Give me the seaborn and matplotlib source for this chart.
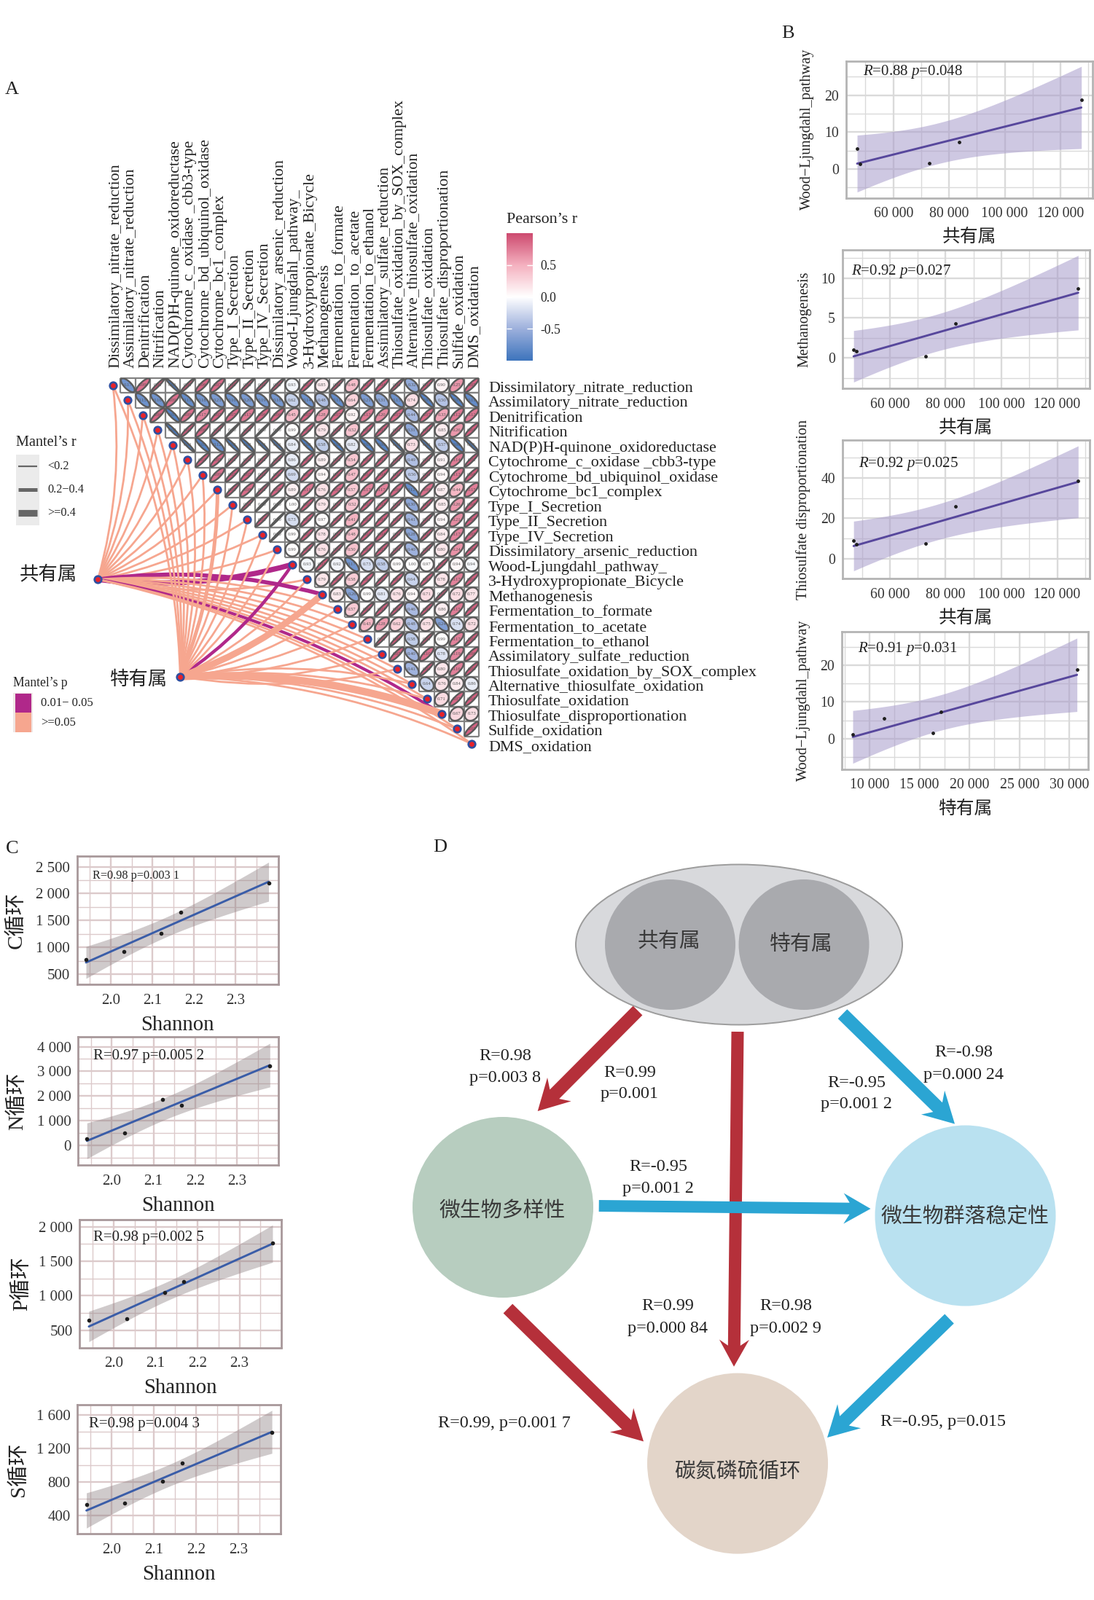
import numpy as np
import pandas as pd
import seaborn as sns
import matplotlib
matplotlib.use('Agg')
import matplotlib.pyplot as plt
from matplotlib.collections import PolyCollection
from matplotlib.colors import LinearSegmentedColormap, ListedColormap, Normalize
from matplotlib.cm import ScalarMappable
from matplotlib.patches import Circle, Ellipse, PathPatch, Polygon, Rectangle
from matplotlib.path import Path
from matplotlib.transforms import ScaledTranslation

W, H = 1501, 2196

sns.set_style('white')
plt.rcParams['font.family'] = ['Liberation Serif', 'Noto Sans CJK SC']
plt.rcParams['mathtext.fontset'] = 'custom'
plt.rcParams['mathtext.rm'] = 'Liberation Serif'
plt.rcParams['mathtext.it'] = 'Liberation Serif:italic'
plt.rcParams['text.color'] = '#222222'

# ---- panel A ----
pathways = ['Dissimilatory_nitrate_reduction', 'Assimilatory_nitrate_reduction', 'Denitrification',
            'Nitrification', 'NAD(P)H-quinone_oxidoreductase', 'Cytochrome_c_oxidase _cbb3-type',
            'Cytochrome_bd_ubiquinol_oxidase', 'Cytochrome_bc1_complex', 'Type_I_Secretion',
            'Type_II_Secretion', 'Type_IV_Secretion', 'Dissimilatory_arsenic_reduction',
            'Wood-Ljungdahl_pathway_', '3-Hydroxypropionate_Bicycle', 'Methanogenesis',
            'Fermentation_to_formate', 'Fermentation_to_acetate', 'Fermentation_to_ethanol',
            'Assimilatory_sulfate_reduction', 'Thiosulfate_oxidation_by_SOX_complex',
            'Alternative_thiosulfate_oxidation', 'Thiosulfate_oxidation',
            'Thiosulfate_disproportionation', 'Sulfide_oxidation', 'DMS_oxidation']

# printed value of each cell, the sign says which way the correlation goes
signed_p = [
    [-.17, .09, .01, -.01, .01, .06, .07, .01, .01, .01, .01, -.93, .03, .85, .01, .48, .03, .04, .01, -.32, .02, .90, .25, .05],
    [-.15, -.16, .09, -.11, -.18, -.21, -.16, -.20, -.19, -.18, -.62, -.14, -.48, -.11, .64, -.21, -.31, -.15, .74, -.05, -.50, -.05, -.11],
    [.06, -.05, .09, .17, .05, .07, .13, .06, .06, .45, .05, .28, .07, .92, .13, .20, .07, -.44, .07, .33, .12, .12],
    [-.02, .02, .06, .01, .00, .01, .00, .00, .99, .03, .79, .01, .52, .03, .03, .01, -.31, .02, .85, .26, .04],
    [-.01, -.05, -.12, -.02, -.02, -.01, -.01, -.84, -.03, -.58, -.03, -.82, -.05, -.06, -.01, .73, -.01, -.57, -.06, -.01],
    [.03, .05, .01, .01, .01, .01, -.86, .03, .89, .01, .54, .03, .03, .01, -.49, .01, .91, .14, .02],
    [.09, .03, .05, .01, .02, -.69, .04, .94, .02, .47, .04, .04, .02, -.56, .01, .94, .13, .04],
    [.02, .08, .01, .05, .89, .11, .76, .07, .57, .17, .17, .06, -.12, .09, .87, .44, .15],
    [.01, .00, .00, 1.00, .03, .79, .01, .52, .03, .03, .01, -.30, .02, .85, .26, .04],
    [.02, .00, -.73, .03, .97, .02, .41, .03, .04, .02, -.41, .01, .94, .21, .04],
    [.00, .99, .03, .78, .01, .48, .03, .04, .01, -.28, .02, .84, .17, .05],
    [.99, .02, .76, .01, .50, .03, .03, .01, -.40, .01, .80, .24, .03],
    [-.93, .03, -.92, -.17, -.73, -.58, .99, 1.00, .97, .02, .94, -.94],
    [.79, .03, .58, .04, .02, .03, -.64, .03, .78, .17, .04],
    [.83, -.26, .99, -.81, .76, .94, .71, .01, .72, .77],
    [.57, .02, .03, .02, -.46, .02, .86, .15, .04],
    [.43, .28, .62, -.48, .75, -.24, -.74, .72],
    [.01, .02, -.58, .01, .99, .17, .03],
    [.05, -.40, .10, -.78, .19, .06],
    [-.41, .02, .80, .16, .03],
    [-.64, .76, .84, -.86],
    [.71, .07, .04],
    [.67, .73],
    [.05],
]

# p to |r| for five samples
p_lookup = [0, .01, .05, .1, .17, .25, .3, .4, .5, .6, .7, .8, .9, 1]
r_lookup = [1, .96, .88, .805, .72, .63, .58, .49, .39, .31, .23, .155, .08, 0]

common_purple = {12: 5.2, 14: 4.0, 22: 3.0}
special_purple = {12: 3.2}
special_thick = {7: 3.6, 14: 6.4, 22: 7.4}

# ---- panel B ----
common_abund = [47000, 48000, 72800, 83600, 127500]
special_abund = [8325, 11430, 16360, 17180, 30750]
wood_common = [5.6, 1.3, 1.6, 7.2, 18.7]
methano = [1.07, 0.88, 0.26, 4.33, 8.73]
thio_disp = [8.9, 7.2, 7.5, 26.0, 38.6]
wood_special = [1.2, 5.6, 1.6, 7.2, 18.7]

# ---- panel C ----
shannon = [1.9405, 2.0315, 2.121, 2.1675, 2.379]
c_cycle = [780, 918, 1256, 1659, 2194]
n_cycle = [260, 490, 1850, 1630, 3220]
p_cycle = [647, 669, 1051, 1206, 1768]
s_cycle = [526, 545, 806, 1031, 1395]


def px_axes(left, top, right, bottom, **kw):
    return fig.add_axes([left / W, 1 - bottom / H, (right - left) / W, (bottom - top) / H], **kw)


fig = plt.figure(figsize=(W / 100, H / 100), dpi=100)
bg = fig.add_axes([0, 0, 1, 1], zorder=0)
bg.set_xlim(0, W)
bg.set_ylim(H, 0)
bg.axis('off')

# ---- correlogram ----
n = len(pathways)
left, top, cell_w, cell_h = 144.6, 518.5, 20.51, 20.5
node_x = left + (np.arange(n) + .5) * cell_w
node_y = top + (np.arange(n) + .5) * cell_h

ax = px_axes(left, top, left + n * cell_w, top + n * cell_h, zorder=2)
frame = pd.DataFrame(np.zeros((n, n)), index=pathways, columns=pathways)
hide = np.tril(np.ones((n, n), dtype=bool))
sns.heatmap(frame, mask=hide, cmap=ListedColormap(['white']), cbar=False, linewidths=0,
            ax=ax, xticklabels=True, yticklabels=True)
ax.patch.set_alpha(0)
ax.xaxis.tick_top()
ax.yaxis.tick_right()
ax.tick_params(axis='x', length=0, pad=9.5, rotation=90, labelsize=15.8, labelcolor='#222222')
ax.tick_params(axis='y', length=0, pad=9, rotation=0, labelsize=15.8, labelcolor='#222222')
shift = ScaledTranslation(3.5 / 100, 0, fig.dpi_scale_trans)
for lab in ax.get_xticklabels():
    lab.set_transform(lab.get_transform() + shift)
shift_y = ScaledTranslation(0, -2 / 100, fig.dpi_scale_trans)
for lab in ax.get_yticklabels():
    lab.set_transform(lab.get_transform() + shift_y)

# staircase grid, only the upper triangle has cells
for i in range(n - 1):
    ax.hlines([i, i + 1], i + 1, n, color='#828282', lw=1.6, zorder=2.5, clip_on=False)
    ax.vlines(i + 1, 0, i + 1, color='#828282', lw=1.6, zorder=2.5, clip_on=False)
ax.vlines(n, 0, n - 1, color='#828282', lw=1.6, zorder=2.5, clip_on=False)

rb = LinearSegmentedColormap.from_list('rb', ['#3D74BC', '#9DB0DC', '#FFFFFF', '#F4B0BF', '#CD4A6F'])
norm = Normalize(-1, 1)
t = np.linspace(0, 2 * np.pi, 60)
polys, fills = [], []
for i, row in enumerate(signed_p):
    for k, val in enumerate(row):
        j = i + 1 + k
        r = np.sign(val) * np.interp(abs(val), p_lookup, r_lookup)
        if val == 0:
            r = .99
        d = np.arccos(r)
        polys.append(np.c_[j + .5 + .46 * np.cos(t + d / 2), i + .5 - .46 * np.cos(t - d / 2)])
        fills.append(rb(norm(r)))
        ax.text(j + .5, i + .5, '%.2f' % abs(val), ha='center', va='center', fontsize=4.8,
                color='#555555', zorder=4)
ax.add_collection(PolyCollection(polys, facecolors=fills, edgecolors='#5A5A5A', linewidths=1.7, zorder=3))

ax.scatter(np.arange(n) + .5, np.arange(n) + .5, s=78, color='#2F4FA0', zorder=5, clip_on=False, linewidths=0)
ax.scatter(np.arange(n) + .5, np.arange(n) + .5, s=24, color='#E8222A', zorder=6, clip_on=False, linewidths=0)

# mantel links, drawn underneath the grid
SALMON, PURPLE = '#F6A68F', '#B0288A'
hub_common = (134.3, 795.3)
hub_special = (247.3, 928.7)


def link(hub, target, color, lw):
    dx, dy = target[0] - hub[0], target[1] - hub[1]
    rad = .1 if dy < 0 else -.1
    ctrl = ((hub[0] + target[0]) / 2 - rad * dy, (hub[1] + target[1]) / 2 + rad * dx)
    bg.add_patch(PathPatch(Path([hub, ctrl, target], [Path.MOVETO, Path.CURVE3, Path.CURVE3]),
                           fc='none', ec=color, lw=lw, capstyle='butt'))


for i in range(n):
    link(hub_common, (node_x[i], node_y[i]), PURPLE if i in common_purple else SALMON, common_purple.get(i, 2.0))
for i, lw in special_purple.items():
    link(hub_special, (node_x[i], node_y[i]), PURPLE, lw)
for i in range(n):
    if i not in special_purple:
        link(hub_special, (node_x[i], node_y[i]), SALMON, special_thick.get(i, 2.0))

bg.scatter(*zip(hub_common, hub_special), s=78, color='#2F4FA0', zorder=5, linewidths=0)
bg.scatter(*zip(hub_common, hub_special), s=24, color='#E8222A', zorder=6, linewidths=0)
bg.text(66, 788, '共有属', fontsize=19, ha='center', va='center')
bg.text(191, 933, '特有属', fontsize=19, ha='center', va='center')

# colour bar
cax = px_axes(695, 320, 730.5, 495, zorder=2)
cb = fig.colorbar(ScalarMappable(norm=norm, cmap=rb), cax=cax, ticks=[-.5, 0, .5])
cb.outline.set_visible(False)
cb.ax.set_yticklabels(['-0.5', '0.0', '0.5'], fontsize=12.7, color='#222222')
cb.ax.tick_params(length=0, pad=8)
for v in (-.5, 0, .5):
    cb.ax.hlines(v, 0, .2, color='white', lw=1, transform=cb.ax.get_yaxis_transform())
    cb.ax.hlines(v, .8, 1, color='white', lw=1, transform=cb.ax.get_yaxis_transform())
bg.text(695, 302, 'Pearson’s r', fontsize=15.8, va='center')

# mantel legends
bg.text(22, 607, 'Mantel’s r', fontsize=14.6, va='center')
bg.add_patch(Rectangle((22, 624), 32, 96.7, fc='#EBEBEB', ec='none'))
for y, lw, lab in zip([640, 672, 704], [1.6, 3.6, 6.6], ['<0.2', '0.2−0.4', '>=0.4']):
    bg.plot([25, 51], [y, y], color='#666666', lw=lw, solid_capstyle='butt')
    bg.text(65, y, lab, fontsize=11.7, va='center')
bg.text(18, 938, 'Mantel’s p', fontsize=12.7, va='center')
bg.add_patch(Rectangle((18, 951), 27, 54, fc='#EFE6E4', ec='none'))
bg.add_patch(Rectangle((20.7, 951.7), 22, 26.5, fc=PURPLE, ec='none'))
bg.add_patch(Rectangle((20.7, 978.2), 22, 26.8, fc=SALMON, ec='none'))
bg.text(56, 965, '0.01− 0.05', fontsize=12, va='center')
bg.text(56, 992, '>=0.05', fontsize=12, va='center')

for lab, x, y in [('A', 16, 123), ('B', 1081, 46), ('C', 17, 1165), ('D', 604, 1163)]:
    bg.text(x, y, lab, fontsize=19, ha='center', va='center')


# ---- scatter panels ----
def fit_panel(box, xs, ys, xlim, ylim, xticks, yticks, xminor, yminor, xtxt, ylab, ylab_x, note, note_xy,
              note_size, colors, tick_size, xlab_size, ylab_size, xlab_gap, xfmt, yfmt):
    a = px_axes(*box, zorder=1)
    xs, ys = np.array(xs, float), np.array(ys, float)
    # 95 % band of the linear fit, five points
    b1, b0 = np.polyfit(xs, ys, 1)
    grid = np.linspace(xs.min(), xs.max(), 80)
    res = ys - (b0 + b1 * xs)
    se = np.sqrt((res ** 2).sum() / 3) * np.sqrt(1 / 5 + (grid - xs.mean()) ** 2 / ((xs - xs.mean()) ** 2).sum())
    a.fill_between(grid, b0 + b1 * grid - 3.182 * se, b0 + b1 * grid + 3.182 * se, color=colors['band'],
                   alpha=colors['alpha'], lw=0, zorder=1.5)
    sns.regplot(x=xs, y=ys, ax=a, ci=None, truncate=True,
                scatter_kws={'s': colors['dot'], 'color': '#1E1E1E', 'zorder': 3, 'alpha': 1},
                line_kws={'color': colors['line'], 'lw': 2.1, 'zorder': 2.5})
    a.set_xlim(*xlim)
    a.set_ylim(*ylim)
    a.set_xticks(xticks)
    a.set_yticks(yticks)
    a.set_xticks(xminor, minor=True)
    a.set_yticks(yminor, minor=True)
    a.set_xticklabels([xfmt(v) for v in xticks])
    a.set_yticklabels([yfmt(v) for v in yticks])
    a.set_axisbelow(True)
    a.grid(which='major', color=colors['grid'], lw=1.7)
    a.grid(which='minor', color=colors['grid'], lw=1.0)
    a.tick_params(which='both', length=0)
    a.tick_params(axis='both', labelsize=tick_size, labelcolor='#333333')
    a.tick_params(axis='x', pad=9)
    a.tick_params(axis='y', pad=7)
    for s in a.spines.values():
        s.set_visible(True)
        s.set_color(colors['frame'])
        s.set_linewidth(2)
    a.set_xlabel(xtxt, fontsize=xlab_size, color='#222222', va='center')
    a.xaxis.set_label_coords(.5, -xlab_gap / (box[3] - box[1]))
    a.set_ylabel(ylab, fontsize=ylab_size, color='#222222', va='center')
    a.yaxis.set_label_coords((ylab_x - box[0]) / (box[2] - box[0]), .5)
    a.text(note_xy[0], note_xy[1] + 3, note, fontsize=note_size, va='center', color='#222222',
           transform=bg.transData, zorder=6)
    return a


def spaced(v):
    return ('{:,}'.format(int(v))).replace(',', ' ')


violet = dict(band='#A79BCB', alpha=.55, line='#57479C', grid='#DADADA', frame='#B4B4B4', dot=6)
rosy = dict(band='#8E8284', alpha=.42, line='#3A5DA8', grid='#DCCACB', frame='#A8989A', dot=9)

big_x = [60000, 80000, 100000, 120000]
big_minor = [50000, 70000, 90000, 110000, 130000]
b_kw = dict(colors=violet, tick_size=14.2, xlab_size=17.8, ylab_size=14.6, xlab_gap=54, xfmt=spaced, yfmt=spaced, note_size=15)

fit_panel((1160.7, 83.6, 1499.3, 271.8), common_abund, wood_common, (42990, 131600), (-7.9, 29.3), big_x, [0, 10, 20],
          big_minor, [-5, 5, 15, 25], '共有属', 'Wood−Ljungdahl_pathway', 1107,
          '$\\it{R}$=0.88 $\\it{p}$=0.048', (1184, 95.7), **b_kw)
fit_panel((1155.7, 343.2, 1495, 533.2), common_abund, methano, (42960, 131600), (-3.81, 13.5), big_x, [0, 5, 10],
          big_minor, [-2.5, 2.5, 7.5, 12.5], '共有属', 'Methanogenesis', 1104,
          '$\\it{R}$=0.92 $\\it{p}$=0.027', (1168, 369), **b_kw)
fit_panel((1155.7, 603.9, 1495, 794.3), common_abund, thio_disp, (42960, 131600), (-9.2, 58.9), big_x, [0, 20, 40],
          big_minor, [-10, 10, 30, 50], '共有属', 'Thiosulfate disproportionation', 1102,
          '$\\it{R}$=0.92 $\\it{p}$=0.025', (1178, 633.6), **b_kw)
fit_panel((1154.7, 867.1, 1493, 1056), special_abund, wood_special, (7209, 31870), (-8.34, 29.05),
          [10000, 15000, 20000, 25000, 30000], [0, 10, 20],
          [7500, 12500, 17500, 22500, 27500], [-5, 5, 15, 25], '特有属', 'Wood−Ljungdahl_pathway', 1102,
          '$\\it{R}$=0.91 $\\it{p}$=0.031', (1177, 887.9), **b_kw)

shan_x = [2.0, 2.1, 2.2, 2.3]
shan_minor = [1.95, 2.05, 2.15, 2.25, 2.35]
c_kw = dict(colors=rosy, tick_size=15, xlab_size=20.7, ylab_size=21, xlab_gap=56,
            xfmt=lambda v: '%.1f' % v, yfmt=spaced)

fit_panel((105.7, 1175, 381.7, 1351.4), shannon, c_cycle, (1.919, 2.402), (309, 2697), shan_x,
          [500, 1000, 1500, 2000, 2500], shan_minor, [750, 1250, 1750, 2250], 'Shannon', 'C循环', 22,
          'R=0.98 p=0.003 1', (126.7, 1198.6), note_size=11.7, **c_kw)
fit_panel((107.3, 1423.4, 382.3, 1599.2), shannon, n_cycle, (1.9196, 2.4), (-810, 4390), shan_x,
          [0, 1000, 2000, 3000, 4000], shan_minor, [-500, 500, 1500, 2500, 3500], 'Shannon', 'N循环', 24,
          'R=0.97 p=0.005 2', (128, 1446.8), note_size=15, **c_kw)
fit_panel((109.3, 1673.7, 386, 1849.5), shannon, p_cycle, (1.9186, 2.4), (250, 2107), shan_x,
          [500, 1000, 1500, 2000], shan_minor, [750, 1250, 1750], 'Shannon', 'P循环', 30,
          'R=0.98 p=0.002 5', (128.3, 1695), note_size=15, **c_kw)
fit_panel((106.3, 1927.9, 385.3, 2105), shannon, s_cycle, (1.9194, 2.4), (180, 1726), shan_x,
          [400, 800, 1200, 1600], shan_minor, [600, 1000, 1400], 'Shannon', 'S循环', 25,
          'R=0.98 p=0.004 3', (121.7, 1951.5), note_size=15, **c_kw)

# ---- panel D ----
RED, BLUE = '#B5303A', '#2BA5D3'


def stealth(tail, tip, width, head_w, head_len, color, z=3):
    tail, tip = np.array(tail, float), np.array(tip, float)
    u = (tip - tail) / np.hypot(*(tip - tail))
    nrm = np.array([-u[1], u[0]])
    neck = tip - u * head_len * .78
    barb = tip - u * head_len
    pts = [tail + nrm * width / 2, neck + nrm * width / 2, barb + nrm * head_w / 2, tip,
           barb - nrm * head_w / 2, neck - nrm * width / 2, tail - nrm * width / 2]
    bg.add_patch(Polygon(pts, closed=True, fc=color, ec='none', zorder=z))


bg.add_patch(Ellipse((1014, 1296.5), 448, 220, fc='#D8D9DC', ec='#9C9C9C', lw=1.4, zorder=2))
bg.add_patch(Circle((919.5, 1296.5), 89.5, fc='#A9AAAE', ec='none', zorder=2.1))
bg.add_patch(Circle((1103, 1296.5), 89.5, fc='#A9AAAE', ec='none', zorder=2.1))
bg.add_patch(Circle((690, 1657), 124, fc='#B7CDBF', ec='none', zorder=2))
bg.add_patch(Circle((1324.5, 1668.5), 124, fc='#B9E1F0', ec='none', zorder=2))
bg.add_patch(Circle((1012, 2008.6), 124, fc='#E3D5C9', ec='none', zorder=2))

stealth((875, 1387), (737.7, 1525), 18, 46, 42, RED)
stealth((1012, 1416), (1007, 1875.7), 17, 41, 37, RED)
stealth((696.9, 1796), (883, 1978.4), 18, 46, 42, RED)
stealth((1156, 1391.7), (1310, 1542.6), 18, 46, 42, BLUE)
stealth((1302.5, 1810), (1135, 1973), 18, 46, 42, BLUE)
stealth((821.7, 1655), (1194.5, 1659), 16, 42, 37, BLUE, z=3.2)

for txt, x, y in [('共有属', 917.7, 1293), ('特有属', 1099, 1297), ('微生物多样性', 689, 1662),
                  ('微生物群落稳定性', 1324, 1671), ('碳氮磷硫循环', 1012, 2020)]:
    bg.text(x, y, txt, fontsize=20.8, ha='center', va='center', color='#3A3A3A', zorder=4)

notes = [('R=0.98', 'p=0.003 8', 693, 1449.5, 1479), ('R=0.99', 'p=0.001', 864, 1473, 1502),
         ('R=-0.98', 'p=0.000 24', 1322, 1444, 1475), ('R=-0.95', 'p=0.001 2', 1175, 1486, 1516),
         ('R=-0.95', 'p=0.001 2', 903, 1601.5, 1631), ('R=0.99', 'p=0.000 84', 916, 1793, 1824),
         ('R=0.98', 'p=0.002 9', 1078, 1793, 1823)]
for a_txt, b_txt, x, y1, y2 in notes:
    bg.text(x, y1, a_txt, fontsize=17.4, ha='center', va='center', zorder=5)
    bg.text(x, y2, b_txt, fontsize=17.4, ha='center', va='center', zorder=5)
bg.text(692, 1954, 'R=0.99, p=0.001 7', fontsize=17.4, ha='center', va='center')
bg.text(1294, 1952, 'R=-0.95, p=0.015', fontsize=17.4, ha='center', va='center')

fig.savefig('out.png', dpi=100, facecolor='white')
